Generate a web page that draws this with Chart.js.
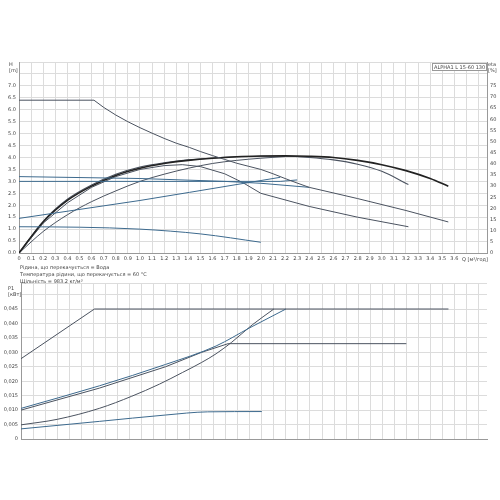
<!DOCTYPE html>
<html>
<head>
<meta charset="utf-8">
<script src="https://cdn.jsdelivr.net/npm/chart.js@4"></script>
<style>
  body { margin: 0; background: #fff; font-family: "DejaVu Sans", sans-serif; }
  #wrap { position: relative; width: 500px; height: 500px; }
  canvas { position: absolute; left: 0; }
  .t { position: absolute; font-size: 5px; color: #444; white-space: nowrap; }
</style>
</head>
<body>
<div id="wrap">
  <canvas id="topChart" width="500" height="265" style="top:0"></canvas>
  <canvas id="botChart" width="500" height="175" style="top:270px"></canvas>
  <div class="t" style="left:9px;top:61px;line-height:6px">H<br>[m]</div>
  <div class="t" style="left:488px;top:61px;line-height:6px">eta<br>[%]</div>
  <div class="t" style="left:432px;top:63px;border:1px solid #999;padding:0 1px;background:#fff">ALPHA1 L 15-60 130</div>
  <div class="t" style="left:462px;top:256px">Q [м³/год]</div>
  <div class="t" style="left:20px;top:264px;line-height:7px">Рідина, що перекачується = Вода<br>Температура рідини, що перекачується = 60 °C<br>Щільність = 983.2 кг/м³</div>
  <div class="t" style="left:8px;top:285px;line-height:6px">P1<br>[кВт]</div>
</div>
<script>
// head curves, points are [Q m3/h, H m]
var maxLimit = [[0,6.4],[0.62,6.4],[0.7,6.1],[0.8,5.78],[0.9,5.5],[1.0,5.25],[1.1,5.02],[1.2,4.8],[1.3,4.6],[1.41,4.42],[1.5,4.25],[1.6,4.08],[1.7,3.92],[1.8,3.76],[1.9,3.63],[2.0,3.5],[2.1,3.32],[2.2,3.12],[2.3,2.93],[2.4,2.75],[2.8,2.28],[3.2,1.78],[3.55,1.3]];
var cpLine = [[0,3.0],[2.16,3.0],[2.3,3.06]];
var ppHigh = [[0,1.45],[1.0,2.2],[1.41,2.54],[2.16,3.17]];
var ppTop = [[0,3.2],[1.0,3.12],[1.7,3.0],[2.0,2.92],[2.4,2.75]];
var lowCurve = [[0,1.1],[0.5,1.08],[1.0,1.0],[1.5,0.8],[2.0,0.45]];
var speedMax = [[0,0],[0.2,1.3],[0.4,2.2],[0.6,2.8],[0.8,3.25],[1.0,3.55],[1.2,3.75],[1.4,3.88],[1.6,3.97],[1.8,4.03],[2.0,4.06],[2.2,4.07],[2.4,4.05],[2.6,4.0],[2.8,3.88],[3.0,3.7],[3.2,3.45],[3.4,3.12],[3.55,2.8]];
var speed2 = [[0,0],[0.2,1.33],[0.4,2.25],[0.6,2.85],[0.8,3.3],[1.0,3.6],[1.2,3.78],[1.4,3.9],[1.6,3.98],[1.8,4.03],[2.0,4.05],[2.2,4.05],[2.4,4.0],[2.6,3.9],[2.8,3.72],[3.0,3.42],[3.22,2.87]];
var speed3 = [[0,0],[0.2,1.25],[0.4,2.1],[0.6,2.75],[0.8,3.2],[1.0,3.5],[1.2,3.66],[1.35,3.7],[1.5,3.62],[1.7,3.32],[1.85,2.95],[2.0,2.5],[2.4,1.95],[2.8,1.5],[3.22,1.1]];
var speed4 = [[0,0],[0.2,0.9],[0.4,1.6],[0.6,2.15],[0.8,2.6],[1.0,3.0],[1.2,3.3],[1.4,3.55],[1.6,3.75],[1.8,3.88],[2.0,3.97],[2.2,4.04]];
// power curves, points are [Q m3/h, P1 kW]
var pMax = [[0,0.0278],[0.61,0.045],[3.55,0.045]];
var pPP1 = [[0,0.0106],[0.65,0.0184],[1.2,0.0258],[1.62,0.0322],[1.9,0.0385],[2.2,0.045]];
var pPP2 = [[0,0.0100],[0.65,0.0176],[1.2,0.0250],[1.5,0.0300],[1.72,0.033],[3.2,0.033]];
var pSteep = [[0,0.0049],[0.3,0.0068],[0.65,0.0106],[0.92,0.0148],[1.15,0.0190],[1.34,0.0230],[1.5,0.0265],[1.62,0.0295],[1.75,0.0335],[1.92,0.0395],[2.1,0.045]];
var pLow = [[0,0.0035],[0.65,0.0061],[1.2,0.0083],[1.55,0.0094],[2.0,0.0095]];

var dark = "#4b5360", blue = "#3d6a8e", grid = "#dcdcdc";
Chart.defaults.font.family = "DejaVu Sans";
Chart.defaults.font.size = 5;
Chart.defaults.color = "#444";

function ds(pts, color, w, curved) {
  return { data: pts.map(function (p) { return { x: p[0], y: p[1] }; }),
    borderColor: color, borderWidth: w, pointRadius: 0, fill: false,
    tension: curved ? 0.4 : 0, cubicInterpolationMode: curved ? "monotone" : "default" };
}
function qTicks(s) {
  s.ticks = [];
  for (var i = 0; i <= 38; i++) s.ticks.push({ value: i / 10 });
}
var g = { color: grid, drawTicks: false };

new Chart(document.getElementById("topChart"), {
  type: "line",
  data: { datasets: [
    ds(maxLimit, dark, 1, false), ds(cpLine, blue, 1, false), ds(ppHigh, blue, 1, false),
    ds(ppTop, blue, 1, false), ds(lowCurve, blue, 1, true),
    ds(speedMax, "#222", 1.6, true), ds(speed2, dark, 1.1, true),
    ds(speed3, dark, 1, false), ds(speed4, dark, 1, true)
  ] },
  options: {
    responsive: false, animation: false,
    layout: { padding: { top: 62, left: 0, right: 0, bottom: 0 } },
    plugins: { legend: { display: false }, tooltip: { enabled: false } },
    scales: {
      x: { type: "linear", min: 0, max: 3.87, afterBuildTicks: qTicks,
        afterFit: function (s) { s.height = 12; },
        grid: g, border: { color: "#999" },
        ticks: { padding: 3, maxRotation: 0, autoSkip: false,
          callback: function (v) { return v > 3.65 ? "" : (v === 0 ? "0" : v.toFixed(1)); } } },
      y: { min: 0, max: 8, afterFit: function (s) { s.width = 19; },
        grid: g, border: { color: "#999" },
        ticks: { stepSize: 0.5, padding: 3, callback: function (v) { return v > 7 ? "" : v.toFixed(1); } } },
      y2: { position: "right", min: 0, max: 85.7, afterFit: function (s) { s.width = 13; },
        grid: { display: false, drawTicks: false }, border: { color: "#999" },
        ticks: { stepSize: 5, padding: 3, callback: function (v) { return v > 75 ? "" : v; } } }
    }
  }
});

new Chart(document.getElementById("botChart"), {
  type: "line",
  data: { datasets: [
    ds(pMax, dark, 1, false), ds(pPP1, blue, 1, true), ds(pPP2, dark, 1, false),
    ds(pSteep, dark, 1, true), ds(pLow, blue, 1, true)
  ] },
  options: {
    responsive: false, animation: false,
    layout: { padding: { top: 13, left: 0, right: 13, bottom: 0 } },
    plugins: { legend: { display: false }, tooltip: { enabled: false } },
    scales: {
      x: { type: "linear", min: 0, max: 3.87, afterBuildTicks: qTicks,
        afterFit: function (s) { s.height = 6; },
        grid: g, border: { color: "#999" }, ticks: { display: false } },
      y: { min: 0, max: 0.054, afterFit: function (s) { s.width = 21; },
        grid: g, border: { color: "#999" },
        ticks: { stepSize: 0.005, padding: 3, callback: function (v) {
          if (v > 0.0455) return ""; return v === 0 ? "0" : v.toFixed(3).replace(".", ","); } } }
    }
  }
});
</script>
</body>
</html>
